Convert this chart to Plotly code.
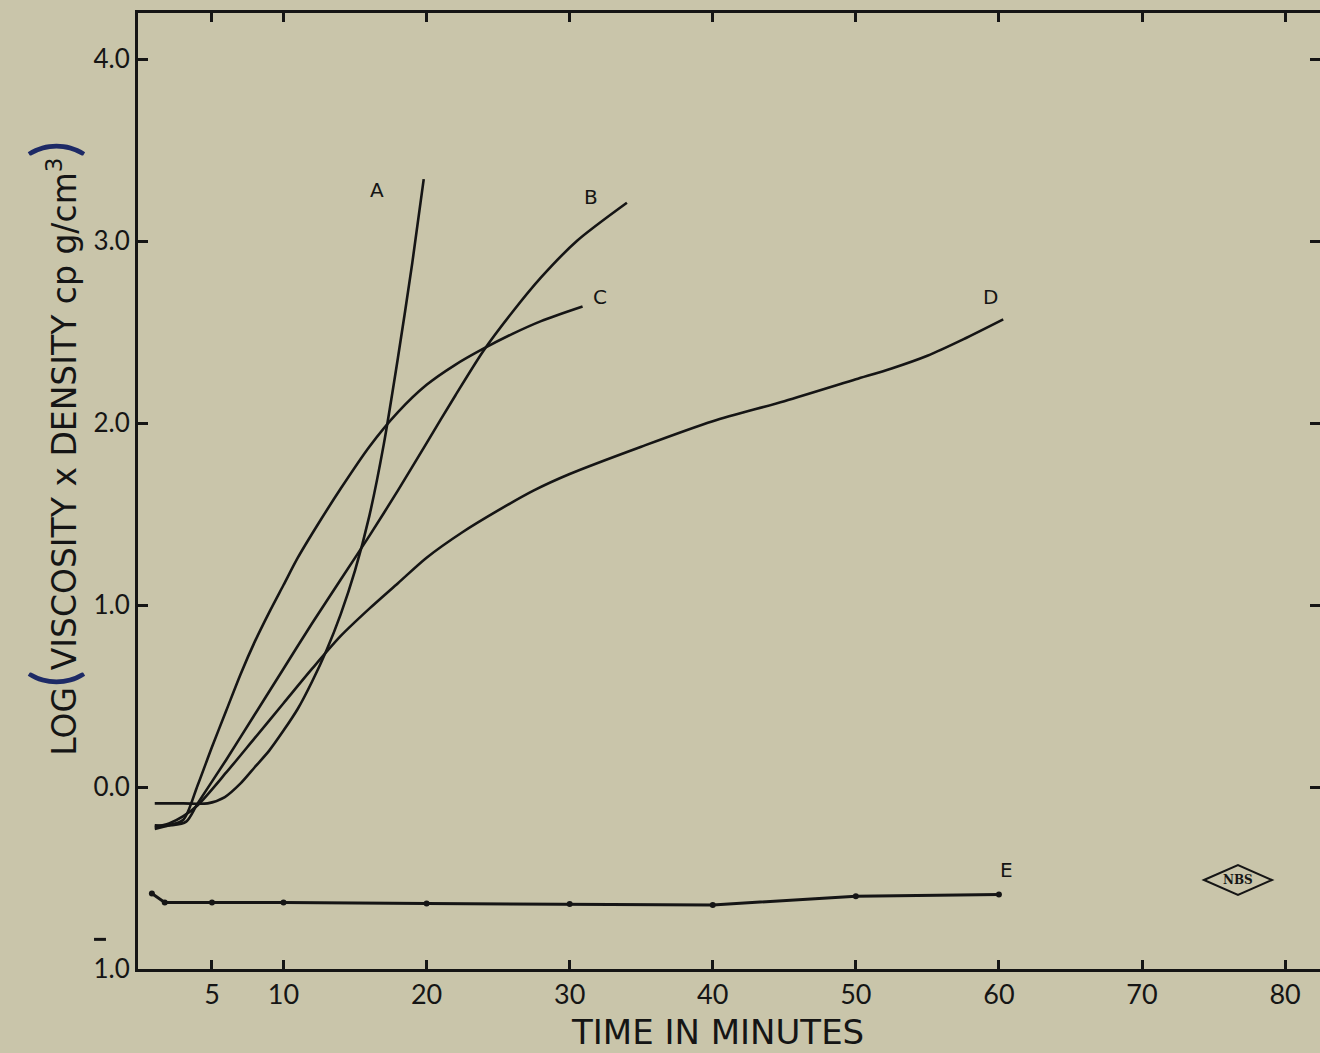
import plotly.graph_objects as go

# ---- data (time in minutes, log(viscosity x density)) ----
time_A = [1.0, 3.0, 4.7, 5.9, 7.0, 8.0, 9.0, 10.0, 11.0, 12.0, 13.0, 14.0, 15.0, 16.0, 17.0, 18.0, 19.0, 19.8]
logv_A = [-0.09, -0.09, -0.09, -0.055, 0.02, 0.11, 0.20, 0.31, 0.43, 0.58, 0.75, 0.95, 1.19, 1.49, 1.88, 2.36, 2.88, 3.34]

time_B = [1.0, 2.2, 3.2, 4.0, 6.0, 8.0, 10.0, 12.0, 14.0, 16.0, 18.0, 20.0, 22.0, 24.0, 26.0, 28.0, 30.5, 34.0]
logv_B = [-0.21, -0.21, -0.19, -0.09, 0.15, 0.40, 0.65, 0.90, 1.14, 1.38, 1.63, 1.89, 2.15, 2.40, 2.61, 2.80, 3.00, 3.21]

time_C = [1.0, 2.0, 3.0, 4.0, 5.0, 6.0, 7.0, 8.0, 9.0, 10.0, 11.0, 12.3, 14.0, 16.0, 18.0, 20.0, 22.0, 24.0, 26.0, 28.0, 30.9]
logv_C = [-0.23, -0.21, -0.18, 0.01, 0.22, 0.42, 0.62, 0.80, 0.96, 1.11, 1.26, 1.43, 1.64, 1.87, 2.06, 2.21, 2.32, 2.41, 2.49, 2.56, 2.64]

time_D = [1.0, 2.0, 3.0, 4.0, 6.0, 8.0, 10.0, 12.0, 14.0, 16.0, 18.0, 20.0, 22.5, 25.0, 27.5, 30.0, 35.0, 40.0, 45.0, 50.0, 52.5, 55.0, 57.5, 60.3]
logv_D = [-0.22, -0.20, -0.16, -0.10, 0.08, 0.27, 0.46, 0.65, 0.83, 0.98, 1.12, 1.26, 1.40, 1.52, 1.63, 1.72, 1.87, 2.01, 2.12, 2.24, 2.30, 2.37, 2.46, 2.57]

time_E = [0.8, 1.7, 5, 10, 20, 30, 40, 50, 60]
logv_E = [-0.585, -0.635, -0.635, -0.635, -0.64, -0.643, -0.648, -0.60, -0.59]

curve_labels = ["A", "B", "C", "D", "E"]
label_t = [16.5, 31.5, 32.1, 59.4, 60.5]
label_v = [3.28, 3.24, 2.69, 2.69, -0.455]

x_ticks = [5, 10, 20, 30, 40, 50, 60, 70, 80]
y_ticks = [-1, 0, 1, 2, 3, 4]
y_ticktext = ["1.0", "0.0", "1.0", "2.0", "3.0", "4.0"]

BG = "#c9c5aa"
INK = "#151515"
NAVY = "#1d2a66"
TICKFONT = "Lato"
TITLEFONT = "DejaVu Sans"

fig = go.Figure()
for t, v in [(time_A, logv_A), (time_B, logv_B), (time_C, logv_C), (time_D, logv_D)]:
    fig.add_trace(go.Scatter(x=t, y=v, mode="lines",
                             line=dict(color=INK, width=2.6, shape="spline", smoothing=0.8),
                             showlegend=False, hoverinfo="skip"))
fig.add_trace(go.Scatter(x=time_E, y=logv_E, mode="lines+markers",
                         line=dict(color=INK, width=3),
                         marker=dict(color=INK, size=6),
                         showlegend=False, hoverinfo="skip"))
# invisible trace to carry the right-hand tick axis
fig.add_trace(go.Scatter(x=[time_E[0]], y=[logv_E[0]], yaxis="y2", mode="markers",
                         marker=dict(opacity=0), showlegend=False, hoverinfo="skip"))

for lab, t, v in zip(curve_labels, label_t, label_v):
    fig.add_annotation(x=t, y=v, text=lab, showarrow=False, xanchor="center", yanchor="middle",
                       font=dict(family=TITLEFONT, size=20, color=INK))

# axis titles
fig.add_annotation(xref="paper", yref="paper", x=0.49, y=-0.066,
                   text="TIME IN MINUTES", showarrow=False,
                   font=dict(family=TITLEFONT, size=34, color=INK),
                   xanchor="center", yanchor="middle")
paren = "<span style='color:%s;font-family:Lato;font-size:62px'>%s</span>"
fig.add_annotation(xref="paper", yref="paper", x=-0.073, y=0.545, textangle=-90,
                   text=("LOG" + paren % (NAVY, "(") +
                         "VISCOSITY x DENSITY cp g/cm<sup>3</sup>" +
                         paren % (NAVY, ")")),
                   showarrow=False, font=dict(family=TITLEFONT, size=33, color=INK),
                   xanchor="center", yanchor="middle")

# bar over the bottom tick label (log notation: bar-1.0)
fig.add_shape(type="line", xref="paper", yref="paper",
              x0=-0.0372, x1=-0.0271, y0=0.031, y1=0.031,
              line=dict(color=INK, width=3))

# NBS logo
cx, cy, hw, hh = 0.9306, 0.0931, 0.0288, 0.0157
fig.add_shape(type="path", xref="paper", yref="paper",
              path=f"M {cx-hw} {cy} L {cx} {cy+hh} L {cx+hw} {cy} L {cx} {cy-hh} Z",
              line=dict(color=INK, width=2))
fig.add_annotation(xref="paper", yref="paper", x=cx, y=cy, text="<b>NBS</b>",
                   xanchor="center", yanchor="middle",
                   showarrow=False, font=dict(family="DejaVu Serif", size=12, color=INK))

fig.update_layout(
    width=1320, height=1053,
    margin=dict(l=138, r=0, t=13, b=84),
    paper_bgcolor=BG, plot_bgcolor=BG,
    font=dict(family=TICKFONT, color=INK),
    xaxis=dict(range=[-0.17, 82.44], tickvals=x_ticks, showgrid=False, zeroline=False,
               showline=True, linecolor=INK, linewidth=3, mirror="ticks",
               ticks="inside", ticklen=9, tickwidth=3, tickcolor=INK,
               tickfont=dict(family=TICKFONT, size=27, color=INK)),
    yaxis=dict(range=[-1.0, 4.253], tickvals=y_ticks, ticktext=y_ticktext,
               showgrid=False, zeroline=False,
               showline=True, linecolor=INK, linewidth=3,
               ticks="inside", ticklen=10, tickwidth=3, tickcolor=INK,
               tickfont=dict(family=TICKFONT, size=26, color=INK)),
    yaxis2=dict(overlaying="y", side="right", matches="y", tickvals=[0, 1, 2, 3, 4],
                showticklabels=False, showgrid=False, zeroline=False, showline=False,
                ticks="inside", ticklen=10, tickwidth=3, tickcolor=INK),
)

fig.write_html("out.html", config={"displayModeBar": False})

# remove the browser's default page margin so the figure fills the window
with open("out.html", "r", encoding="utf-8") as f:
    html = f.read()
html = html.replace("<head>", "<head><style>html,body{margin:0;padding:0;overflow:hidden;}</style>", 1)
with open("out.html", "w", encoding="utf-8") as f:
    f.write(html)
